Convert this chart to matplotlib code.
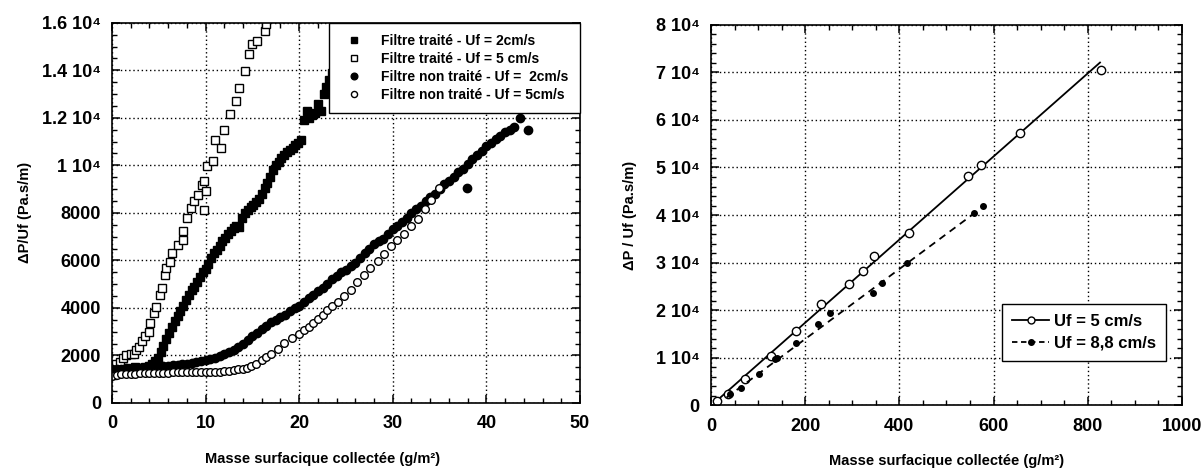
# two panels: pressure drop vs. collected dust mass, treated / untreated filter and two velocities
import matplotlib.pyplot as plt
from matplotlib.ticker import MultipleLocator, FixedLocator, FixedFormatter


plt.rcParams['font.family'] = ['Liberation Sans', 'DejaVu Sans']
plt.rcParams['font.weight'] = 'bold'

# left panel
traite_2_x: list = [0, 0.5, 1, 1.5, 2, 2.5, 3, 3.5, 4, 4.3, 4.6, 4.9, 5.2, 5.5, 5.8, 6.1, 6.4, 6.7, 7.0, 7.3,
                    7.6, 7.9, 8.2, 8.5, 8.8, 9.1, 9.4, 9.7, 10.0, 10.3, 10.6, 10.9, 11.2, 11.5, 11.8, 12.1, 12.4,
                    12.7, 13.0, 13.3, 13.6, 13.9, 14.2, 14.5, 14.8, 15.1, 15.4, 15.7, 16.0, 16.3, 16.6, 16.9, 17.2,
                    17.5, 17.8, 18.1, 18.4, 18.7, 19.0, 19.3, 19.6, 19.9, 20.2, 20.5, 20.8, 21.1, 21.4, 21.7, 22.0,
                    22.3, 22.6, 22.9, 23.2, 23.5]
traite_2_y: list = [1450, 1420, 1450, 1480, 1450, 1500, 1480, 1520, 1560, 1620, 1750, 1900, 2150, 2400, 2700, 2950,
                    3200, 3450, 3650, 3850, 4100, 4350, 4550, 4750, 4900, 5100, 5300, 5500, 5650, 5850, 6100, 6300,
                    6450, 6600, 6800, 6950, 7100, 7250, 7350, 7450, 7400, 7800, 8000, 8100, 8250, 8350, 8450, 8600,
                    8800, 9050, 9250, 9500, 9800, 10000, 10150, 10300, 10450, 10550, 10650, 10750, 10850, 10950,
                    11050, 11900, 12300, 12000, 12100, 12200, 12600, 12300, 13000, 13300, 13600, 13900]

traite_5_x: list = [0, 0.4, 0.9, 1.2, 1.5, 2.0, 2.3, 2.6, 2.9, 3.2, 3.5, 3.9, 4.1, 4.5, 4.7, 5.1, 5.3, 5.7, 5.8,
                    6.2, 6.4, 7.0, 7.6, 7.6, 8.0, 8.4, 8.8, 9.2, 9.6, 9.8, 10.0, 9.8, 10.2, 10.8, 11.0, 11.6, 12.0,
                    12.6, 13.2, 13.6, 14.2, 14.6, 15.0, 15.5, 16.3, 16.5]
traite_5_y: list = [1500, 1650, 1730, 1900, 2010, 2050, 2080, 2250, 2360, 2600, 2800, 3000, 3350, 3770, 4050,
                    4540, 4820, 5390, 5670, 5950, 6300, 6650, 6860, 7220, 7780, 8200, 8480, 8760, 9180, 9330,
                    8900, 8130, 9960, 10170, 11080, 10730, 11500, 12140, 12700, 13260, 13960, 14670, 15090,
                    15230, 15650, 15930]

non_traite_2_x: list = [0, 0.5, 1, 1.5, 2, 2.5, 3, 3.5, 4, 4.5, 5, 5.5, 6, 6.5, 7, 7.5, 8, 8.5, 9, 9.5, 10, 10.5,
                        11, 11.5, 12, 12.5, 13, 13.5, 14, 14.5, 15, 15.5, 16, 16.5, 17, 17.5, 18, 18.5, 19, 19.5,
                        20, 20.5, 21, 21.5, 22, 22.5, 23, 23.5, 24, 24.5, 25, 25.5, 26, 26.5, 27, 27.5, 28, 28.5,
                        29, 29.5, 30, 30.5, 31, 31.5, 32, 32.5, 33, 33.5, 34, 34.5, 35, 35.5, 36, 36.5, 37, 37.5,
                        38, 37.9, 38.5, 39, 39.5, 40, 40.5, 41, 41.5, 42, 42.5, 43, 43.6, 44.4]
non_traite_2_y: list = [1450, 1440, 1450, 1460, 1450, 1470, 1460, 1470, 1480, 1500, 1520, 1540, 1560, 1580, 1600,
                        1620, 1650, 1680, 1720, 1760, 1800, 1850, 1900, 1980, 2050, 2150, 2250, 2370, 2500, 2650,
                        2800, 2950, 3100, 3250, 3400, 3500, 3600, 3720, 3850, 3980, 4100, 4250, 4400, 4550, 4700,
                        4850, 5000, 5200, 5350, 5500, 5600, 5750, 5900, 6100, 6300, 6500, 6700, 6800, 6900, 7100,
                        7300, 7450, 7600, 7800, 8000, 8150, 8300, 8500, 8650, 8800, 9000, 9200, 9350, 9500, 9700,
                        9850, 10050, 9040, 10250, 10450, 10600, 10800, 10950, 11100, 11250, 11400, 11500, 11600,
                        12000, 11500]

non_traite_5_x: list = [0, 0.5, 1, 1.5, 2, 2.5, 3, 3.5, 4, 4.5, 5, 5.5, 6, 6.5, 7, 7.5, 8, 8.5, 9, 9.5, 10, 10.5,
                        11, 11.5, 12, 12.5, 13, 13.5, 14, 14.4, 14.8, 15.4, 16, 16.5, 17, 17.7, 18.4, 19.2, 20,
                        20.5, 21, 21.5, 22, 22.5, 23, 23.5, 24.1, 24.8, 25.5, 26.2, 26.9, 27.6, 28.4, 29.1, 29.8,
                        30.5, 31.2, 32, 32.7, 33.4, 34.1, 34.9]
non_traite_5_y: list = [1150, 1180, 1200, 1210, 1220, 1240, 1250, 1250, 1260, 1270, 1280, 1280, 1280, 1290, 1290,
                        1300, 1300, 1300, 1300, 1310, 1310, 1310, 1320, 1320, 1330, 1350, 1380, 1410, 1450, 1490,
                        1540, 1650, 1800, 1920, 2040, 2280, 2540, 2720, 2900, 3050, 3200, 3370, 3540, 3720, 3900,
                        4080, 4260, 4510, 4760, 5080, 5400, 5680, 5970, 6290, 6610, 6860, 7110, 7430, 7760, 8150,
                        8540, 9040]

left_yticks: list = [0, 2000, 4000, 6000, 8000, 10000, 12000, 14000, 16000]
left_ylabels: list = ['0', '2000', '4000', '6000', '8000', '1 10⁴', '1.2 10⁴', '1.4 10⁴', '1.6 10⁴']

# right panel
uf5_x: list = [12, 37, 73, 127, 180, 233, 294, 322, 347, 420, 545, 574, 657, 829]
uf5_y: list = [900, 2300, 5460, 10360, 15600, 21200, 25400, 28200, 31350, 36250, 48150, 50600, 57250, 70540]
uf5_fit_x: list = [8, 826]
uf5_fit_y: list = [560, 72080]

uf88_x: list = [41, 64, 102, 135, 140, 180, 228, 253, 343, 363, 416, 559, 578]
uf88_y: list = [2300, 3700, 6500, 9650, 9900, 13150, 17000, 19450, 23650, 25750, 29950, 40450, 41850]
uf88_fit_x: list = [33, 565]
uf88_fit_y: list = [1600, 40800]

right_yticks: list = [0, 10000, 20000, 30000, 40000, 50000, 60000, 70000, 80000]
right_ylabels: list = ['0', '1 10⁴', '2 10⁴', '3 10⁴', '4 10⁴', '5 10⁴', '6 10⁴', '7 10⁴', '8 10⁴']

x_label: str = 'Masse surfacique collectée (g/m²)'


def style_axes(ax):
    ax.tick_params(which = 'both', direction = 'in', top = True, right = True, labelsize = 13)
    ax.tick_params(axis = 'x', which = 'major', pad = 9)
    ax.tick_params(axis = 'y', which = 'major', pad = 8)
    ax.tick_params(which = 'major', length = 6, width = 1.1)
    ax.tick_params(which = 'minor', length = 3.5, width = 1.0)
    ax.grid(True, which = 'major', color = 'black', linestyle = (0, (1, 2)), linewidth = 1.0)
    for spine in ax.spines.values():
        spine.set_linewidth(1.2)
    for label in ax.get_xticklabels() + ax.get_yticklabels():
        label.set_fontweight('bold')


fig = plt.figure(figsize = (12.03, 4.70), dpi = 100)

# ---- left panel
ax1 = fig.add_axes([0.0931, 0.1426, 0.389, 0.809])
ax1.plot(traite_2_x, traite_2_y, linestyle = 'none', marker = 's', markersize = 6, color = 'black',
         label = 'Filtre traité - Uf = 2cm/s')
ax1.plot(traite_5_x, traite_5_y, linestyle = 'none', marker = 's', markersize = 6, markerfacecolor = 'white',
         markeredgecolor = 'black', markeredgewidth = 1.0, label = 'Filtre traité - Uf = 5 cm/s')
ax1.plot(non_traite_2_x, non_traite_2_y, linestyle = 'none', marker = 'o', markersize = 6, color = 'black',
         label = 'Filtre non traité - Uf =  2cm/s')
ax1.plot(non_traite_5_x, non_traite_5_y, linestyle = 'none', marker = 'o', markersize = 5.5,
         markerfacecolor = 'white', markeredgecolor = 'black', markeredgewidth = 1.0,
         label = 'Filtre non traité - Uf = 5cm/s')
ax1.set_xlim(0, 50)
ax1.set_ylim(0, 16000)
ax1.xaxis.set_major_locator(MultipleLocator(10))
ax1.xaxis.set_minor_locator(MultipleLocator(2))
ax1.yaxis.set_major_locator(FixedLocator(left_yticks))
ax1.yaxis.set_major_formatter(FixedFormatter(left_ylabels))
ax1.yaxis.set_minor_locator(MultipleLocator(500))
style_axes(ax1)
ax1.set_xlabel(x_label, fontsize = 10.5, fontweight = 'bold', labelpad = 14, x = 0.45)
ax1.set_ylabel('ΔP/Uf (Pa.s/m)', fontsize = 10.5, fontweight = 'bold')
ax1.yaxis.set_label_coords(-0.17, 0.5)
leg1 = ax1.legend(loc = 'upper right', borderaxespad = 0, fontsize = 10, fancybox = False, edgecolor = 'black',
                  framealpha = 1, handletextpad = 1.0, borderpad = 0.8, labelspacing = 0.3, markerscale = 0.8)
leg1.get_frame().set_linewidth(1.0)
for text in leg1.get_texts():
    text.set_fontweight('bold')

# ---- right panel
ax2 = fig.add_axes([0.591, 0.138, 0.3915, 0.809])
ax2.plot(uf5_fit_x, uf5_fit_y, color = 'black', linewidth = 1.3)
ax2.plot(uf5_x, uf5_y, linestyle = 'none', marker = 'o', markersize = 6, markerfacecolor = 'white',
         markeredgecolor = 'black', markeredgewidth = 1.0)
ax2.plot(uf88_fit_x, uf88_fit_y, color = 'black', linewidth = 1.3, linestyle = (0, (4, 3)))
ax2.plot(uf88_x, uf88_y, linestyle = 'none', marker = 'o', markersize = 4, color = 'black')
# legend handles: line with marker
ax2.plot([], [], color = 'black', linewidth = 1.3, marker = 'o', markersize = 5, markerfacecolor = 'white',
         label = 'Uf = 5 cm/s')
ax2.plot([], [], color = 'black', linewidth = 1.3, linestyle = (0, (3, 2)), marker = 'o', markersize = 4,
         label = 'Uf = 8,8 cm/s')
ax2.set_xlim(0, 1000)
ax2.set_ylim(0, 80000)
ax2.xaxis.set_major_locator(MultipleLocator(200))
ax2.xaxis.set_minor_locator(MultipleLocator(50))
ax2.yaxis.set_major_locator(FixedLocator(right_yticks))
ax2.yaxis.set_major_formatter(FixedFormatter(right_ylabels))
ax2.yaxis.set_minor_locator(MultipleLocator(2000))
style_axes(ax2)
ax2.set_xlabel(x_label, fontsize = 10.5, fontweight = 'bold', labelpad = 14)
ax2.set_ylabel('ΔP / Uf (Pa.s/m)', fontsize = 10.5, fontweight = 'bold')
ax2.yaxis.set_label_coords(-0.157, 0.5)
leg2 = ax2.legend(loc = 'upper right', bbox_to_anchor = (0.966, 0.266), borderaxespad = 0, fontsize = 12,
                  fancybox = False, edgecolor = 'black', framealpha = 1, handlelength = 2.2,
                  handletextpad = 0.3, borderpad = 0.6, labelspacing = 0.4)
leg2.get_frame().set_linewidth(1.0)
for text in leg2.get_texts():
    text.set_fontweight('bold')

fig.savefig('out.png', dpi = 100)
